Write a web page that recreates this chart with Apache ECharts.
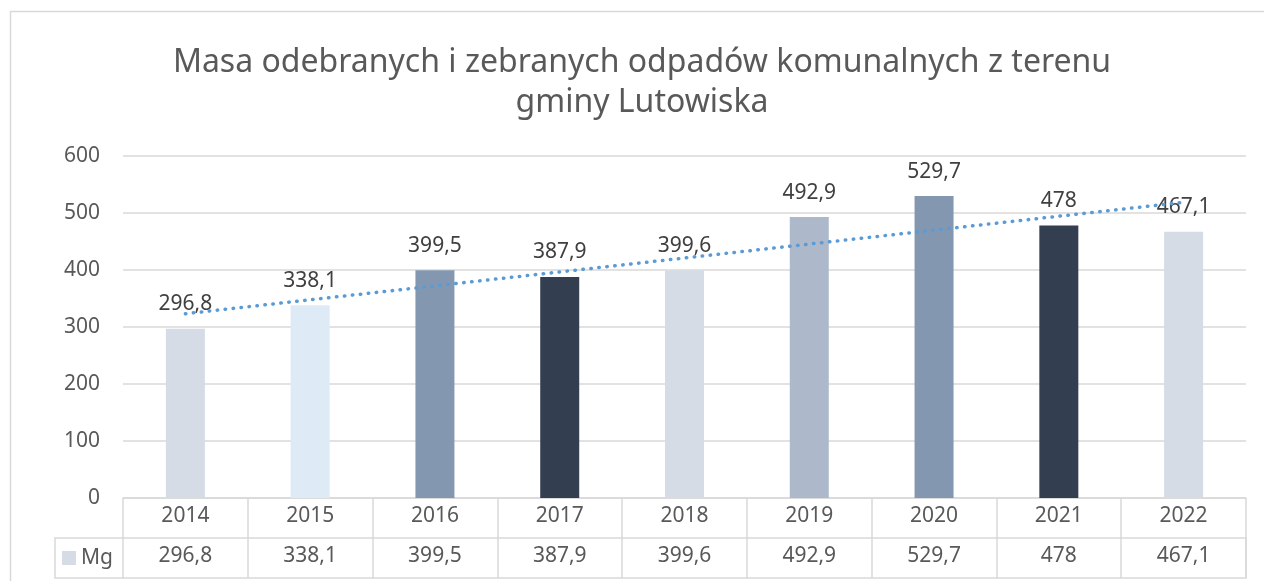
<!DOCTYPE html>
<html>
<head>
<meta charset="utf-8">
<script src="https://cdn.jsdelivr.net/npm/echarts@6/dist/echarts.min.js"></script>
<style>
html,body{margin:0;padding:0;background:#fff;}
#chart{width:1264px;height:581px;}
</style>
</head>
<body>
<div id="chart"></div>
<script>
const titleText = 'Masa odebranych i zebranych odpadów komunalnych z terenu\ngminy Lutowiska';
const categories = ['2014','2015','2016','2017','2018','2019','2020','2021','2022'];
const values = [296.8, 338.1, 399.5, 387.9, 399.6, 492.9, 529.7, 478, 467.1];
const barColors = ['#D6DCE5','#DEEBF7','#8497B0','#333F50','#D6DCE5','#ADB9CA','#8497B0','#333F50','#D6DCE5'];
const seriesName = 'Mg';
const trendCategories = ['2014','2022'];
const trendValues = [323.3, 518.8];
const yTicks = [0, 100, 200, 300, 400, 500, 600];

const fmt = v => String(v).replace('.', ',');
const FONT = 'Noto Sans';
const GRID = '#D9D9D9';

const chart = echarts.init(document.getElementById('chart'), null, {renderer:'canvas'});
chart.setOption({
  animation: false,
  textStyle: {fontFamily: FONT},
  title: {
    text: titleText,
    left: 642,
    top: 43,
    padding: 0,
    textAlign: 'center',
    textStyle: {fontFamily: FONT, fontSize: 32, fontWeight: 'normal', color: '#595959', lineHeight: 40}
  },
  grid: {left: 123, right: 18, top: 156, bottom: 83, containLabel: false},
  xAxis: [{
    type: 'category',
    data: categories,
    position: 'bottom',
    axisLine: {show: true, lineStyle: {color: GRID, width: 1.5}},
    axisTick: {show: true, length: 80, lineStyle: {color: GRID, width: 1.5}},
    axisLabel: {fontFamily: FONT, fontSize: 21, color: '#595959', margin: 8},
    splitLine: {show: false}
  }, {
    type: 'category',
    data: categories,
    position: 'bottom',
    offset: 40,
    axisLine: {show: false},
    axisTick: {show: false},
    axisLabel: {
      fontFamily: FONT, fontSize: 21, color: '#595959', margin: 8,
      formatter: (v, i) => fmt(values[i])
    }
  }],
  yAxis: {
    type: 'value',
    min: 0, max: 600, interval: 100,
    axisLine: {show: false},
    axisTick: {show: false},
    axisLabel: {fontFamily: FONT, fontSize: 21, color: '#595959', margin: 23,
      customValues: yTicks},
    splitLine: {lineStyle: {color: GRID, width: 1.5}}
  },
  graphic: [
    {type: 'rect', shape: {x: 10.5, y: 11.5, width: 1400, height: 700}, style: {fill: null, stroke: GRID, lineWidth: 1.5}, silent: true},
    {type: 'rect', shape: {x: 55, y: 538, width: 1191, height: 40}, style: {fill: null, stroke: GRID, lineWidth: 1.5}, silent: true},
    {type: 'rect', shape: {x: 62, y: 551, width: 14, height: 14}, style: {fill: barColors[0]}, silent: true},
    {type: 'text', x: 81, y: 558, style: {text: seriesName, font: '21px "Noto Sans"', fill: '#595959', verticalAlign: 'middle'}, silent: true}
  ],
  series: [{
    name: seriesName,
    type: 'bar',
    barWidth: 39,
    data: values.map((v, i) => ({value: v, itemStyle: {color: barColors[i]}})),
    label: {show: true, position: 'top', distance: 14, fontFamily: FONT, fontSize: 21, color: '#404040',
      formatter: p => fmt(p.value)}
  }, {
    name: 'trend',
    type: 'line',
    data: trendCategories.map((c, i) => [c, trendValues[i]]),
    symbol: 'none',
    z: 5,
    lineStyle: {color: '#5B9BD5', width: 3.5, type: [0.5, 7.5], cap: 'round'}
  }]
});
</script>
</body>
</html>
